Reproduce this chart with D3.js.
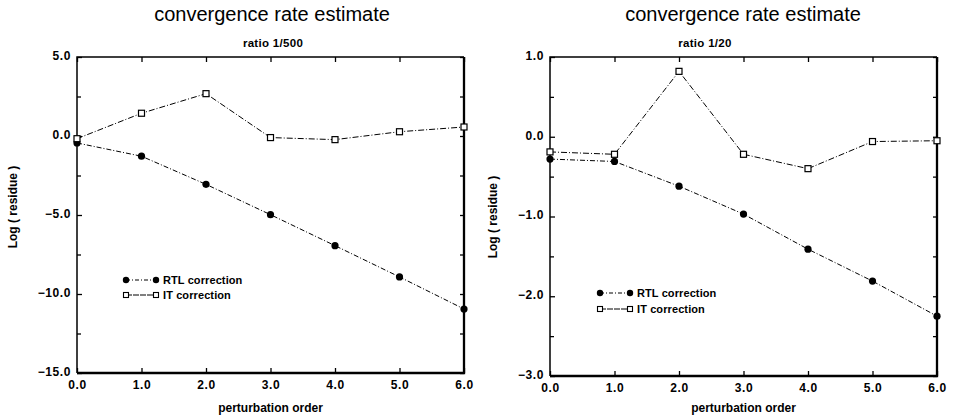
<!DOCTYPE html>
<html>
	<head>
		<meta charset="utf-8" />
		<script src="https://cdn.jsdelivr.net/npm/d3@7"></script>
		<style type="text/css">

html, body {
  margin: 0;
  padding: 0;
  background: #ffffff;
}

svg {
  display: block;
  font-family: "Liberation Sans", Arial, Helvetica, sans-serif;
}

.title {
  font-size: 20px;
}

.subtitle, .tick text, .axis-label, .legend text {
  font-weight: bold;
}

.subtitle {
  font-size: 11.5px;
  letter-spacing: 0.3px;
}

.tick text {
  font-size: 12px;
  letter-spacing: 0.6px;
}

.axis-label {
  font-size: 12px;
}

.legend text {
  font-size: 11px;
  letter-spacing: 0.1px;
}

.series {
  fill: none;
  stroke: #000;
  stroke-width: 1;
}
		</style>
	</head>

	<body>
		<div id="chart"></div>
		<script type="text/javascript">

// perturbation order (x)
var orders = [0, 1, 2, 3, 4, 5, 6];

// ratio 1/500
var rtl500 = [-0.44, -1.28, -3.06, -4.98, -6.94, -8.92, -10.95];
var it500 = [-0.17, 1.44, 2.68, -0.1, -0.23, 0.27, 0.57];
var yTicks500 = [-15, -10, -5, 0, 5];

// ratio 1/20
var rtl20 = [-0.28, -0.31, -0.62, -0.97, -1.41, -1.81, -2.25];
var it20 = [-0.19, -0.22, 0.82, -0.22, -0.40, -0.06, -0.05];
var yTicks20 = [-3, -2, -1, 0, 1];

var seriesNames = ['RTL correction', 'IT correction'];

var width = 957, height = 418;

var svg = d3.select('#chart').append('svg')
	.attr('width', width)
	.attr('height', height);

function drawPanel(opt) {
	var g = svg.append('g');

	var x = d3.scaleLinear().domain([0, 6]).range([opt.left, opt.right]);
	var y = d3.scaleLinear().domain([opt.yTicks[0], opt.yTicks[opt.yTicks.length - 1]])
		.range([opt.bottom, opt.top]);

	var step = opt.yTicks[1] - opt.yTicks[0];
	var minor = d3.range(opt.yTicks[0] + step / 2, opt.yTicks[opt.yTicks.length - 1], step);
	var fmt = d3.format('.1f');

	// titles
	g.append('text')
		.attr('class', 'title')
		.attr('x', opt.titleX)
		.attr('y', 21)
		.attr('text-anchor', 'middle')
		.text('convergence rate estimate');

	g.append('text')
		.attr('class', 'subtitle')
		.attr('x', opt.subX)
		.attr('y', 47)
		.attr('text-anchor', 'middle')
		.text(opt.subtitle);

	// axes with inward ticks
	var bottom = g.append('g')
		.attr('transform', 'translate(0,' + opt.bottom + ')')
		.call(d3.axisBottom(x).tickValues(orders).tickSize(-5).tickPadding(7).tickFormat(fmt));
	var top = g.append('g')
		.attr('transform', 'translate(0,' + opt.top + ')')
		.call(d3.axisTop(x).tickValues(orders).tickSize(-5).tickFormat(''));
	var left = g.append('g')
		.attr('transform', 'translate(' + opt.left + ',0)')
		.call(d3.axisLeft(y).tickValues(opt.yTicks).tickSize(-5).tickPadding(6).tickFormat(fmt));
	var leftMinor = g.append('g')
		.attr('transform', 'translate(' + opt.left + ',0)')
		.call(d3.axisLeft(y).tickValues(minor).tickSize(-4).tickFormat(''));
	var right = g.append('g')
		.attr('transform', 'translate(' + opt.right + ',0)')
		.call(d3.axisRight(y).tickValues(opt.yTicks.concat(minor)).tickSize(-4).tickFormat(''));

	[bottom, top, left, leftMinor, right].forEach(function(a) {
		a.select('.domain').remove();
		a.selectAll('.tick line').attr('stroke', '#000').attr('stroke-width', 1.3);
		a.selectAll('.tick text').attr('fill', '#000');
		a.attr('font-family', null).attr('font-size', null);
	});
	left.selectAll('.tick text').attr('dy', '0.2em');

	// frame
	g.append('path')
		.attr('d', 'M' + opt.left + ',' + opt.bottom + 'V' + opt.top + 'H' + opt.right)
		.attr('fill', 'none').attr('stroke', '#000').attr('stroke-width', 1.5);
	g.append('path')
		.attr('d', 'M' + opt.left + ',' + opt.bottom + 'H' + opt.right + 'V' + opt.top)
		.attr('fill', 'none').attr('stroke', '#000').attr('stroke-width', 2.3);

	// axis labels
	g.append('text')
		.attr('class', 'axis-label')
		.attr('x', (opt.left + opt.right) / 2)
		.attr('y', 412)
		.attr('text-anchor', 'middle')
		.text('perturbation order');

	g.append('text')
		.attr('class', 'axis-label')
		.attr('transform', 'translate(' + opt.ylabX + ',' + opt.ylabY + ') rotate(-90)')
		.attr('text-anchor', 'middle')
		.text('Log ( residue )');

	// series
	var line = d3.line()
		.x(function(d, i) { return x(orders[i]); })
		.y(function(d) { return y(d); });

	g.append('path').attr('class', 'series')
		.attr('stroke-dasharray', '5,2,1,2')
		.attr('d', line(opt.rtl));
	g.append('path').attr('class', 'series')
		.attr('stroke-dasharray', '6,2,1,2')
		.attr('d', line(opt.it));

	g.selectAll('circle.rtl').data(opt.rtl).enter().append('circle')
		.attr('class', 'rtl')
		.attr('cx', function(d, i) { return x(orders[i]); })
		.attr('cy', function(d) { return y(d); })
		.attr('r', 3.6)
		.attr('fill', '#000');

	g.selectAll('rect.it').data(opt.it).enter().append('rect')
		.attr('class', 'it')
		.attr('x', function(d, i) { return x(orders[i]) - 3; })
		.attr('y', function(d) { return y(d) - 3; })
		.attr('width', 6)
		.attr('height', 6)
		.attr('fill', '#fff')
		.attr('stroke', '#000')
		.attr('stroke-width', 1.2);

	// legend
	var lg = g.append('g').attr('class', 'legend')
		.attr('transform', 'translate(' + opt.legX + ',' + opt.legY + ')');
	seriesNames.forEach(function(name, i) {
		var yy = i * opt.legGap;
		lg.append('line')
			.attr('x1', 0).attr('x2', 30).attr('y1', yy).attr('y2', yy)
			.attr('stroke', '#000').attr('stroke-width', 1)
			.attr('stroke-dasharray', i === 0 ? '4,2,1,2' : '6,1');
		if (i === 0) {
			lg.append('circle').attr('cx', 0).attr('cy', yy).attr('r', 3.2).attr('fill', '#000');
			lg.append('circle').attr('cx', 30).attr('cy', yy).attr('r', 3.2).attr('fill', '#000');
		} else {
			[0, 30].forEach(function(cx) {
				lg.append('rect').attr('x', cx - 2.5).attr('y', yy - 2.5)
					.attr('width', 5).attr('height', 5)
					.attr('fill', '#fff').attr('stroke', '#000').attr('stroke-width', 1.1);
			});
		}
		lg.append('text')
			.attr('x', 37)
			.attr('y', yy)
			.attr('dy', '0.35em')
			.text(name);
	});
}

drawPanel({
	left: 77, right: 464, top: 57, bottom: 373,
	yTicks: yTicks500, rtl: rtl500, it: it500,
	titleX: 272, subX: 273, subtitle: 'ratio 1/500', ylabX: 17, ylabY: 207,
	legX: 126, legY: 280, legGap: 15
});

drawPanel({
	left: 550, right: 937, top: 57, bottom: 376,
	yTicks: yTicks20, rtl: rtl20, it: it20,
	titleX: 743, subX: 705, subtitle: 'ratio 1/20', ylabX: 497, ylabY: 217,
	legX: 600, legY: 293, legGap: 16
});

    </script>
  </body>
</html>
